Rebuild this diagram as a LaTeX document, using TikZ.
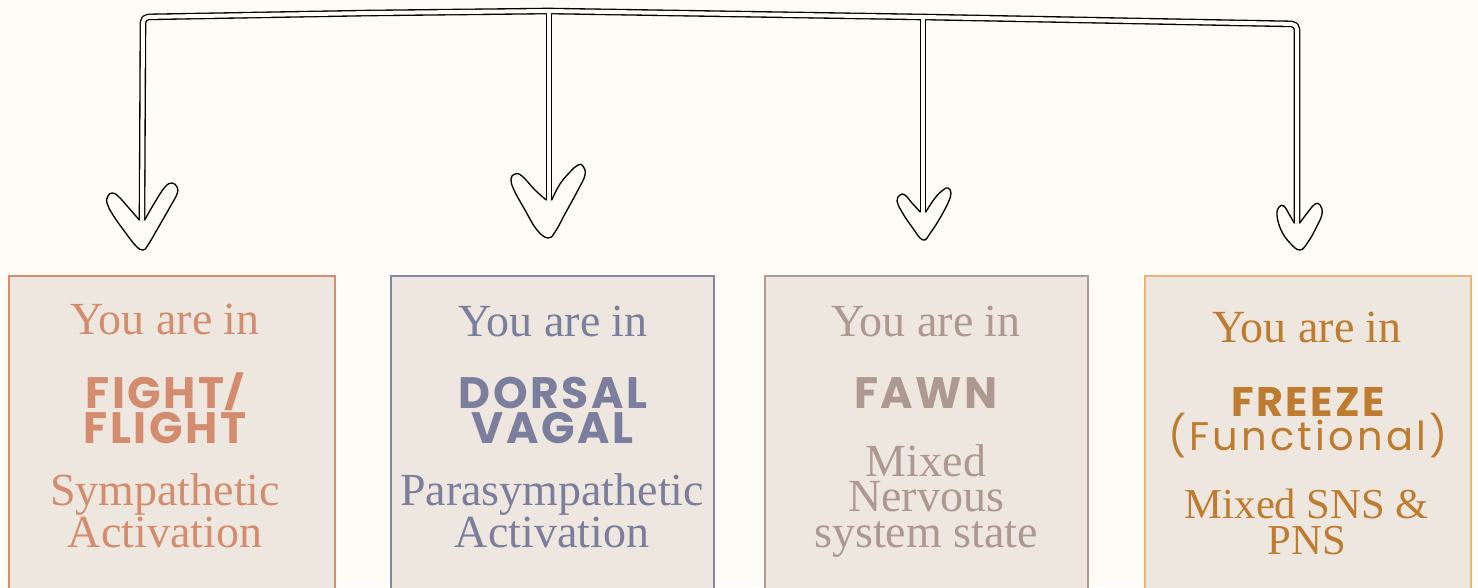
\documentclass[tikz,border=0pt]{standalone}
\usepackage{fontspec}
\setmainfont{Liberation Serif}
\newfontfamily\popcaps{Poppins}[LetterSpace=6]
\newfontfamily\popthin{Poppins}[LetterSpace=8]
\newcommand{\shortslash}{\raisebox{0.07em}{\scalebox{1}[0.76]{/}}}
\definecolor{bg}{HTML}{FFFCF7}
\definecolor{boxfill}{HTML}{EDE7DF}
\definecolor{cA}{HTML}{D38C6E}
\definecolor{cAb}{HTML}{D48C6C}
\definecolor{cB}{HTML}{7C7E9E}
\definecolor{cBb}{HTML}{8487A3}
\definecolor{cC}{HTML}{AE9990}
\definecolor{cCb}{HTML}{AE9A91}
\definecolor{cD}{HTML}{BE7C30}
\definecolor{cDb}{HTML}{E8B573}
\tikzset{
  serif/.style={anchor=base, inner sep=0pt, align=center, font=\fontsize{34.5}{26.5}\selectfont},
  serifS/.style={anchor=base, inner sep=0pt, align=center, font=\fontsize{32}{27}\selectfont},
  caps/.style={anchor=base, inner sep=0pt, align=center, font=\popcaps\bfseries\fontsize{33}{26.25}\selectfont},
  capsB/.style={anchor=base, inner sep=0pt, align=center, font=\popcaps\bfseries\fontsize{31}{25.5}\selectfont},
  thin/.style={anchor=base, inner sep=0pt, font=\popthin\fontsize{30}{36}\selectfont},
  panel/.style={draw=#1, line width=1.5pt, fill=boxfill, anchor=north west, inner sep=0pt, minimum height=243.75pt},
  outerline/.style={line width=5pt, black, line cap=butt, line join=round, rounded corners=4pt},
  innerline/.style={line width=3pt, bg, line cap=butt, line join=round, rounded corners=4pt},
  head/.style={line width=1pt, black, line join=round, line cap=round}
}
\begin{document}
\begin{tikzpicture}[x=0.75pt, y=-0.75pt]
\path[use as bounding box, fill=bg] (0,0) rectangle (1478,587);
\clip (0,0) rectangle (1478,587);

% panels
\node[panel=cAb, minimum width=244.5pt] (p1) at (8,275) {};
\node[panel=cBb, minimum width=242.25pt] (p2) at (390,275) {};
\node[panel=cCb, minimum width=242.25pt] (p3) at (764,275) {};
\node[panel=cDb, minimum width=244.5pt] (p4) at (1144,275) {};

% panel 1 (base anchor = baseline of last line)
\node[serif, text=cA] (a1) at (165,334) {You are in};
\node[caps, text=cA] (a2) at (165,443) {FIGHT\shortslash\\FLIGHT};
\node[serif, text=cA] (a4) at (165,547) {Sympathetic\\Activation};

% panel 2
\node[serif, text=cB] (b1) at (553,336) {You are in};
\node[caps, text=cB] (b2) at (553,443) {DORSAL\\VAGAL};
\node[serif, text=cB] (b4) at (552,547) {Parasympathetic\\Activation};

% panel 3
\node[serif, text=cC] (c1t) at (926,336) {You are in};
\node[caps, text=cC] (c2t) at (926,408) {FAWN};
\node[serif, text=cC] (c3t) at (926,547) {Mixed\\Nervous\\system state};

% panel 4
\node[serif, text=cD] (d1) at (1307,342) {You are in};
\node[capsB, text=cD] (d2) at (1308,416) {FREEZE};
\node[thin, text=cD] (d3) at (1308,450) {(Functional)};
\node[serifS, text=cD] (d4) at (1307,554) {Mixed SNS \&\\PNS};

% connector coordinates
\coordinate (k1) at (143,17);
\coordinate (m1) at (370,13);
\coordinate (j2) at (549,11);
\coordinate (j3) at (923,17);
\coordinate (k4) at (1297,24);
\coordinate (n1) at (142,220);
\coordinate (n2) at (549,200);
\coordinate (n3) at (923,212);
\coordinate (n4) at (1297,223);

% double-stroke connectors
\draw[outerline] (n1) -- (k1) -- (m1) -- (j2) -- (j3) -- (k4) -- (n4);
\draw[outerline] (j2) -- (n2);
\draw[outerline] (j3) -- (n3);
\draw[innerline] (n1) -- (k1) -- (m1) -- (j2) -- (j3) -- (k4) -- (n4);
\draw[innerline] (j2) -- (n2);
\draw[innerline] (j3) -- (n3);

% hand-drawn arrowheads
\begin{scope}[shift={(n1)}]
\draw[head] plot[smooth, tension=0.7] coordinates {(-2.7,0) (-14,-13) (-24,-24) (-30,-27) (-34,-24) (-35,-17) (-29,-5) (-17,12) (-6,26) (1,30) (6,25) (16,8) (28,-13) (35,-26) (35,-33) (30,-37) (23,-33) (13,-18) (2.7,0)};
\end{scope}
\begin{scope}[shift={(n2)}]
\draw[head] plot[smooth, tension=0.7] coordinates {(-2.7,0) (-14,-10) (-27,-24) (-34,-26) (-38,-21) (-35,-10) (-24,10) (-12,30) (-1,38) (6,32) (17,12) (29,-10) (36,-25) (34,-34) (29,-35) (21,-28) (11,-16) (2.7,0)};
\end{scope}
\begin{scope}[shift={(n3)}]
\draw[head] plot[smooth, tension=0.7] coordinates {(-2.7,0) (-11,-9) (-18,-17) (-23,-17) (-26,-11) (-21,0) (-11,15) (0,28) (8,20) (17,6) (25,-9) (28,-19) (25,-24) (20,-22) (12,-14) (2.7,0)};
\end{scope}
\begin{scope}[shift={(n4)}]
\draw[head] plot[smooth, tension=0.7] coordinates {(-2.7,0) (-8,-9) (-13,-17) (-18,-16) (-20,-8) (-16,7) (-7,20) (3,27) (11,19) (19,5) (25,-9) (23,-18) (18,-19) (11,-11) (2.7,0)};
\end{scope}
\end{tikzpicture}
\end{document}
